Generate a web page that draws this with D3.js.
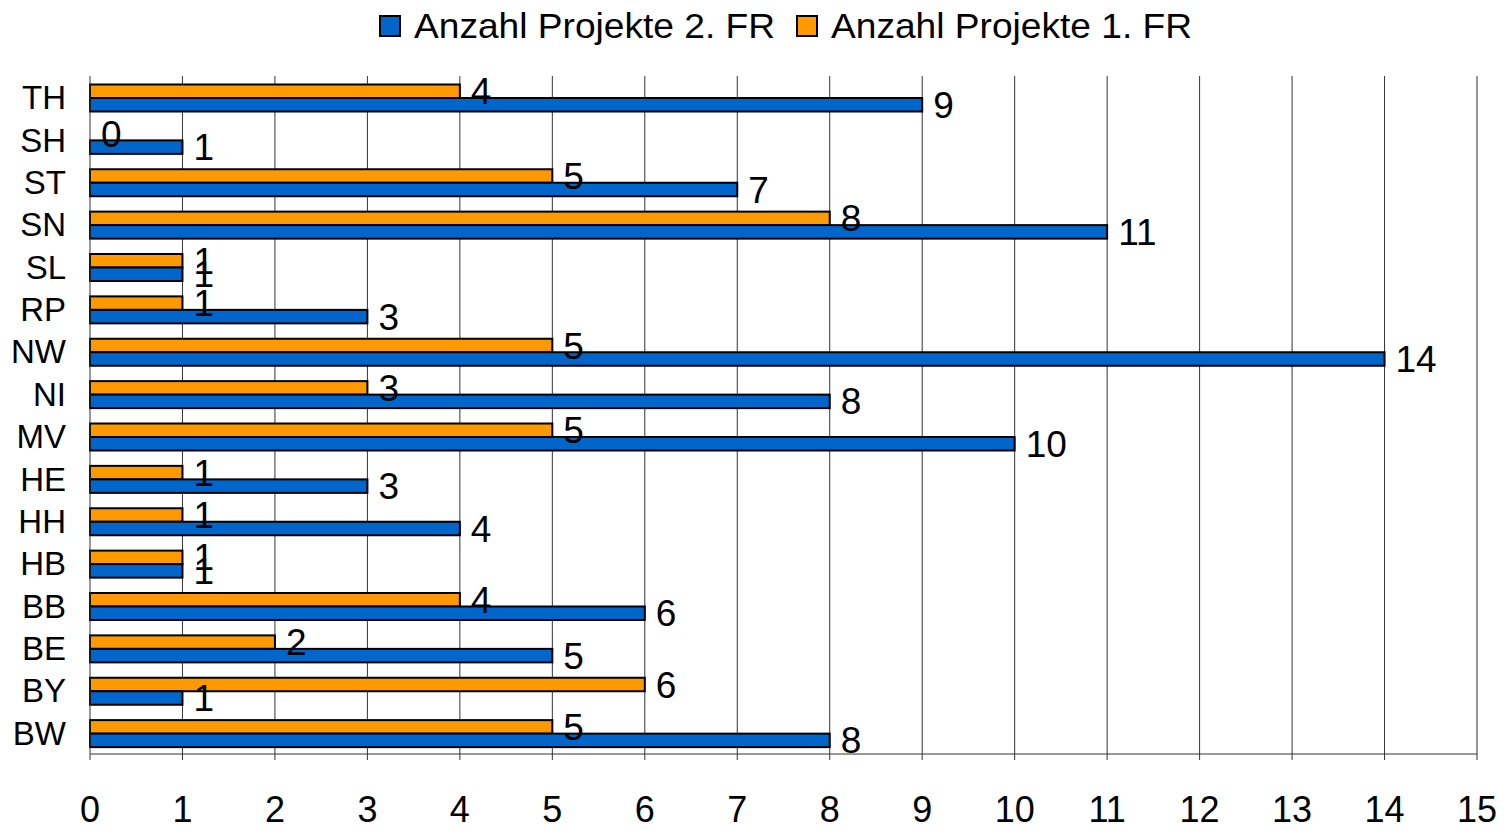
<!DOCTYPE html>
<html>
<head>
<meta charset="utf-8">
<script src="https://cdn.jsdelivr.net/npm/d3@7"></script>
<style>
  body { margin: 0; background: #fff; }
  svg { font-family: "Liberation Sans", Arial, sans-serif; }
</style>
</head>
<body>
<svg width="1504" height="830"></svg>
<script>
let categories = ["TH", "SH", "ST", "SN", "SL", "RP", "NW", "NI", "MV", "HE", "HH", "HB", "BB", "BE", "BY", "BW"];
let fr2 = [9, 1, 7, 11, 1, 3, 14, 8, 10, 3, 4, 1, 6, 5, 1, 8];
let fr1 = [4, 0, 5, 8, 1, 1, 5, 3, 5, 1, 1, 1, 4, 2, 6, 5];
let xTicks = d3.range(0, 16);
let seriesNames = ["Anzahl Projekte 2. FR", "Anzahl Projekte 1. FR"];
let seriesColors = ["#0066cc", "#ff9900"];

let svg = d3.select("svg");
let margin = {top: 76, right: 27, bottom: 76, left: 90};
let width = 1504 - margin.left - margin.right, height = 830 - margin.top - margin.bottom;

let x = d3.scaleLinear().domain([0, 15]).range([0, width]);
let y = d3.scaleBand().domain(categories).range([0, height]);
let g = svg.append("g").attr("transform", "translate(" + margin.left + "," + margin.top + ")");

// grid
g.selectAll(".grid").data(xTicks.slice(1))
  .enter().append("line")
  .attr("x1", d => x(d)).attr("x2", d => x(d))
  .attr("y1", 0).attr("y2", height + 6)
  .attr("stroke", "#333").attr("stroke-width", 1);

let barH = 13.5;
let rows = categories.map((c, i) => ({c: c, a: fr1[i], b: fr2[i]}));

// orange (1. FR) on top, blue (2. FR) below
g.selectAll(".bar1").data(rows).enter().append("rect")
  .attr("x", 0).attr("y", d => y(d.c) + 8.5)
  .attr("width", d => x(d.a)).attr("height", barH)
  .attr("fill", seriesColors[1]).attr("stroke", "#000").attr("stroke-width", 2)
  .style("display", d => d.a > 0 ? null : "none");
g.selectAll(".bar2").data(rows).enter().append("rect")
  .attr("x", 0).attr("y", d => y(d.c) + 8.5 + barH)
  .attr("width", d => x(d.b)).attr("height", barH)
  .attr("fill", seriesColors[0]).attr("stroke", "#000").attr("stroke-width", 2);

// value labels
g.selectAll(".lab1").data(rows).enter().append("text")
  .attr("x", d => x(d.a) + 11).attr("y", d => y(d.c) + 8.5 + barH / 2 + 13)
  .attr("font-size", 37).text(d => d.a);
g.selectAll(".lab2").data(rows).enter().append("text")
  .attr("x", d => x(d.b) + 11).attr("y", d => y(d.c) + 8.5 + barH * 1.5 + 13)
  .attr("font-size", 37).text(d => d.b);

// axes
g.append("line").attr("x1", 0).attr("x2", width).attr("y1", height).attr("y2", height)
  .attr("stroke", "#333").attr("stroke-width", 1);
g.append("line").attr("x1", 0).attr("x2", 0).attr("y1", 0).attr("y2", height + 6)
  .attr("stroke", "#333").attr("stroke-width", 1);

g.selectAll(".xt").data(xTicks).enter().append("text")
  .attr("x", d => x(d)).attr("y", height + 68)
  .attr("text-anchor", "middle").attr("font-size", 36).text(d => d);

g.selectAll(".yt").data(categories).enter().append("text")
  .attr("x", -24).attr("y", d => y(d) + y.bandwidth() / 2 + 12)
  .attr("text-anchor", "end").attr("font-size", 33).text(d => d);

// legend
let legend = svg.append("g");
let lx = [380, 797];
seriesNames.forEach((n, i) => {
  legend.append("rect").attr("x", lx[i]).attr("y", 16).attr("width", 20).attr("height", 20)
    .attr("fill", seriesColors[i]).attr("stroke", "#000").attr("stroke-width", 2);
  legend.append("text").attr("x", lx[i] + 34).attr("y", 38).attr("font-size", 35)
    .attr("textLength", 361).attr("lengthAdjust", "spacingAndGlyphs").text(n);
});
</script>
</body>
</html>
